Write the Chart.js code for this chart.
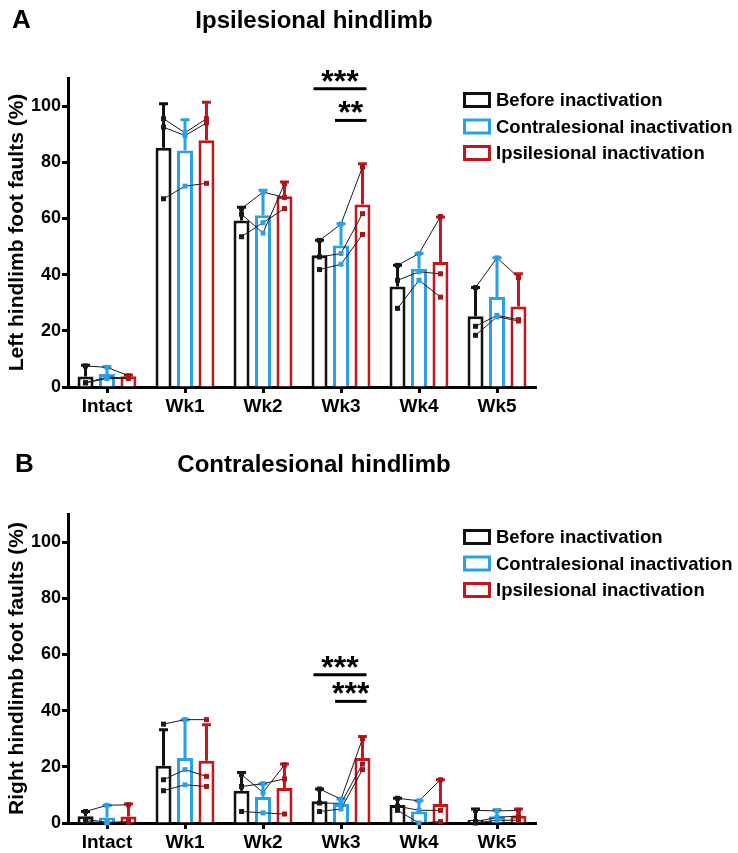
<!DOCTYPE html>
<html><head><meta charset="utf-8">
<script src="https://cdn.jsdelivr.net/npm/chart.js@4/dist/chart.umd.min.js"></script>
<style>
html,body{margin:0;padding:0;background:#fff;}
#wrap{position:relative;width:738px;height:853px;background:#fff;}
canvas{position:absolute;left:0;}
</style></head><body>
<div id="wrap">
<canvas id="cA" width="738" height="425" style="top:0px"></canvas>
<canvas id="cB" width="738" height="428" style="top:425px"></canvas>
</div>
<script>
// ---------------- DATA ----------------
const categories = ['Intact', 'Wk1', 'Wk2', 'Wk3', 'Wk4', 'Wk5'];
const seriesNames = ['Before inactivation', 'Contralesional inactivation', 'Ipsilesional inactivation'];
const yTickValues = [0, 20, 40, 60, 80, 100];

// Panel A: Ipsilesional hindlimb (left hindlimb foot faults, %)
const A_before = [3.7, 85.2, 59.3, 46.9, 35.8, 25.2];
const A_contra = [4.6, 84.2, 61.1, 50.4, 42.1, 32.0];
const A_ipsi   = [3.8, 87.8, 67.9, 65.0, 44.5, 28.7];
const A_err_before = [4.0, 15.6, 4.7, 5.3, 7.5, 10.2];
const A_err_contra = [2.6, 10.9, 8.9, 7.7, 5.4, 14.0];
const A_err_ipsi   = [0.5, 13.6, 5.1, 14.5, 16.0, 11.6];
// individual animals: [category][animal]
const A_pts_before = [[7.5, 1.5, 1.5], [95.5, 92.5, 67.0], [63.5, 61.5, 53.5], [52.2, 46.3, 41.8], [43.3, 38.0, 28.0], [35.4, 21.6, 18.4]];
const A_pts_contra = [[7.0, 3.5, 3.0], [90.5, 89.5, 71.5], [69.4, 54.8, 58.5], [58.0, 47.5, 43.7], [47.5, 41.0, 38.0], [46.0, 25.5, 25.0]];
const A_pts_ipsi   = [[4.0, 3.2, 3.0], [95.5, 94.0, 72.5], [67.5, 72.4, 63.5], [78.3, 61.7, 54.3], [60.7, 40.3, 32.0], [39.0, 24.0, 23.5]];
const A_sig_labels = ['***', '**'];
const A_sig_levels = [106.2, 94.9];

// Panel B: Contralesional hindlimb (right hindlimb foot faults, %)
const B_before = [2.4, 20.4, 11.5, 7.7, 6.4, 1.2];
const B_contra = [2.0, 23.1, 9.3, 6.8, 4.1, 2.4];
const B_ipsi   = [2.3, 22.2, 12.5, 23.1, 6.8, 2.6];
const B_err_before = [1.7, 12.8, 6.5, 4.4, 2.4, 3.8];
const B_err_contra = [4.3, 13.7, 4.7, 1.7, 3.8, 2.3];
const B_err_ipsi   = [4.5, 12.8, 8.5, 7.7, 8.6, 2.4];
const B_pts_before = [[4.1, 1.2, 0.5], [35.2, 15.4, 11.5], [17.2, 13.0, 4.1], [12.1, 7.1, 4.1], [8.8, 6.0, 4.5], [4.5, 0.5, 0.0]];
const B_pts_contra = [[6.3, 0.3, 0.0], [36.8, 19.0, 13.6], [10.9, 14.0, 3.6], [8.5, 7.0, 5.0], [7.9, 4.5, 0.0], [4.3, 2.0, 1.0]];
const B_pts_ipsi   = [[6.5, 0.3, 0.5], [36.8, 16.6, 13.0], [20.7, 15.7, 3.2], [30.0, 21.0, 19.0], [15.4, 4.5, 0.5], [4.5, 2.5, 1.0]];
const B_sig_labels = ['***', '***'];
const B_sig_levels = [52.8, 43.3];

// ---------------- STYLE ----------------
const FONT = "'Liberation Sans', Arial, Helvetica, sans-serif";
const COLORS = ['#111111', '#2aa0e8', '#c4161d'];
const POINT_COLORS = ['#1a1a1a', '#2aa0e8', '#a81318'];

const overlay = {
  id: 'overlay',
  afterDatasetsDraw(chart) {
    const o = chart.options.plugins.overlay;
    const ctx = chart.ctx, y = chart.scales.y;
    const metas = [0, 1, 2].map(i => chart.getDatasetMeta(i));
    ctx.save();
    // error bars (upper only)
    o.errors.forEach((errs, di) => {
      const ds = chart.data.datasets[di];
      ctx.strokeStyle = COLORS[di];
      ctx.lineWidth = 3;
      errs.forEach((e, ci) => {
        const x = metas[di].data[ci].x;
        const y0 = y.getPixelForValue(ds.data[ci]);
        const y1 = y.getPixelForValue(ds.data[ci] + e);
        ctx.beginPath();
        ctx.moveTo(x, y0); ctx.lineTo(x, y1);
        ctx.moveTo(x - 4.5, y1); ctx.lineTo(x + 4.5, y1);
        ctx.stroke();
      });
    });
    // connecting lines per animal
    ctx.strokeStyle = '#1a1a1a';
    ctx.lineWidth = 1;
    categories.forEach((c, ci) => {
      for (let k = 0; k < 3; k++) {
        ctx.beginPath();
        for (let di = 0; di < 3; di++) {
          const x = metas[di].data[ci].x;
          const py = y.getPixelForValue(o.points[di][ci][k]);
          if (di === 0) ctx.moveTo(x, py); else ctx.lineTo(x, py);
        }
        ctx.stroke();
      }
    });
    // points
    for (let di = 0; di < 3; di++) {
      ctx.fillStyle = POINT_COLORS[di];
      categories.forEach((c, ci) => {
        const x = metas[di].data[ci].x;
        o.points[di][ci].forEach(v => {
          const py = y.getPixelForValue(v);
          ctx.fillRect(x - 2.5, py - 2.5, 5, 5);
        });
      });
    }
    ctx.restore();
  },
  afterDraw(chart) {
    const o = chart.options.plugins.overlay;
    const ctx = chart.ctx, y = chart.scales.y;
    const metas = [0, 1, 2].map(i => chart.getDatasetMeta(i));
    ctx.save();
    // significance brackets
    o.sig.forEach(s => {
      const x1 = metas[s.from].data[s.cat].x - 6;
      const x2 = metas[s.to].data[s.cat].x + 4;
      const ly = y.getPixelForValue(s.level);
      ctx.strokeStyle = '#000';
      ctx.lineWidth = 3;
      ctx.beginPath(); ctx.moveTo(x1, ly); ctx.lineTo(x2, ly); ctx.stroke();
      ctx.fillStyle = '#000';
      ctx.font = 'bold 32px ' + FONT;
      ctx.textAlign = 'center';
      ctx.textBaseline = 'alphabetic';
      ctx.fillText(s.label, (x1 + x2) / 2, ly + 3);
    });
    // legend
    ctx.font = 'bold 18.5px ' + FONT;
    ctx.textAlign = 'left';
    ctx.textBaseline = 'middle';
    seriesNames.forEach((name, i) => {
      const cy = o.legendTop + i * 26.5;
      ctx.strokeStyle = COLORS[i];
      ctx.lineWidth = 3;
      ctx.strokeRect(464.5, cy - 6.5, 25, 13);
      ctx.fillStyle = '#000';
      ctx.fillText(name, 496, cy + 1);
    });
    // panel letter and title
    ctx.fillStyle = '#000';
    ctx.textBaseline = 'alphabetic';
    ctx.font = 'bold 26px ' + FONT;
    ctx.textAlign = 'left';
    ctx.fillText(o.letter, o.letterX, o.titleY);
    ctx.font = 'bold 24px ' + FONT;
    ctx.textAlign = 'center';
    ctx.fillText(o.title, 314, o.titleY);
    ctx.restore();
  }
};

function makeChart(id, cfg) {
  const datasets = [cfg.before, cfg.contra, cfg.ipsi].map((d, i) => ({
    label: seriesNames[i],
    data: d,
    backgroundColor: '#ffffff',
    borderColor: COLORS[i],
    borderWidth: 3,
    categoryPercentage: 0.826,
    barPercentage: 0.744
  }));
  return new Chart(document.getElementById(id), {
    type: 'bar',
    data: { labels: categories, datasets },
    plugins: [overlay],
    options: {
      responsive: false,
      animation: false,
      devicePixelRatio: 1,
      layout: { padding: { left: 0, right: 202, top: cfg.padTop, bottom: 0 } },
      plugins: {
        legend: { display: false },
        tooltip: { enabled: false },
        overlay: {
          errors: cfg.errors,
          points: cfg.points,
          sig: cfg.sig,
          legendTop: cfg.legendTop,
          letter: cfg.letter,
          letterX: cfg.letterX,
          title: cfg.title,
          titleY: cfg.titleY
        }
      },
      scales: {
        x: {
          grid: { display: true, drawOnChartArea: false, offset: false, color: '#000', tickLength: 6, tickWidth: 3, tickColor: '#000' },
          border: { display: true, color: '#000', width: 3 },
          ticks: { color: '#000', font: { family: FONT, size: 19, weight: 'bold' }, padding: 2, maxRotation: 0 },
          afterFit: s => { s.height = cfg.xHeight; }
        },
        y: {
          min: 0, max: 110,
          afterBuildTicks: s => { s.ticks = yTickValues.map(v => ({ value: v })); },
          grid: { display: true, drawOnChartArea: false, color: '#000', tickLength: 6, tickWidth: 3, tickColor: '#000' },
          border: { display: true, color: '#000', width: 3 },
          ticks: { color: '#000', font: { family: FONT, size: 18, weight: 'bold' }, padding: 1 },
          title: { display: true, text: cfg.yTitle, color: '#000', font: { family: FONT, size: 21, weight: 'bold' }, padding: { top: 5, bottom: 0 } },
          afterFit: s => { s.width = 68; }
        }
      }
    }
  });
}

makeChart('cA', {
  before: A_before, contra: A_contra, ipsi: A_ipsi,
  errors: [A_err_before, A_err_contra, A_err_ipsi],
  points: [A_pts_before, A_pts_contra, A_pts_ipsi],
  sig: [{ cat: 3, from: 0, to: 2, level: A_sig_levels[0], label: A_sig_labels[0] },
        { cat: 3, from: 1, to: 2, level: A_sig_levels[1], label: A_sig_labels[1] }],
  padTop: 78, xHeight: 38, legendTop: 100,
  letter: 'A', letterX: 12, title: 'Ipsilesional hindlimb', titleY: 28,
  yTitle: 'Left hindlimb foot faults (%)'
});
makeChart('cB', {
  before: B_before, contra: B_contra, ipsi: B_ipsi,
  errors: [B_err_before, B_err_contra, B_err_ipsi],
  points: [B_pts_before, B_pts_contra, B_pts_ipsi],
  sig: [{ cat: 3, from: 0, to: 2, level: B_sig_levels[0], label: B_sig_labels[0] },
        { cat: 3, from: 1, to: 2, level: B_sig_levels[1], label: B_sig_labels[1] }],
  padTop: 89, xHeight: 30, legendTop: 112,
  letter: 'B', letterX: 15, title: 'Contralesional hindlimb', titleY: 47,
  yTitle: 'Right hindlimb foot faults (%)'
});
</script>
</body></html>
